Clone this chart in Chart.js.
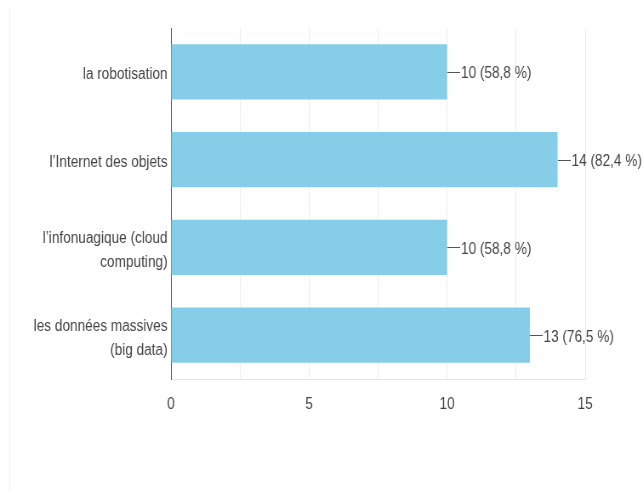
<!DOCTYPE html>
<html>
<head>
<meta charset="utf-8">
<script src="https://cdn.jsdelivr.net/npm/chart.js@4/dist/chart.umd.min.js"></script>
<style>
html,body{margin:0;padding:0;background:#fff;width:643px;height:491px;overflow:hidden;}
#wrap{position:relative;width:643px;height:491px;overflow:hidden;}
#frame{position:absolute;left:9px;top:6px;width:1px;height:485px;background:#f3f3f3;}
#squeeze{position:absolute;left:0;top:0;width:756px;height:491px;transform:scaleX(0.8505);transform-origin:0 0;}
canvas{display:block;}
</style>
</head>
<body>
<div id="wrap"><div id="frame"></div><div id="squeeze"><canvas id="c" width="756" height="491"></canvas></div></div>
<script>
const categories = [
  "la robotisation",
  "l’Internet des objets",
  ["l’infonuagique (cloud", "computing)"],
  ["les données massives", "(big data)"]
];
const counts = [10, 14, 10, 13];
const percentLabels = ["58,8 %", "82,4 %", "58,8 %", "76,5 %"];
const xTicks = [0, 5, 10, 15];

const FONT = "'Liberation Sans', Arial, sans-serif";

const valueLabels = {
  id: 'valueLabels',
  afterDatasetsDraw(chart) {
    const ctx = chart.ctx;
    const meta = chart.getDatasetMeta(0);
    ctx.save();
    ctx.font = "16px " + FONT;
    ctx.fillStyle = "#444";
    ctx.strokeStyle = "#555";
    ctx.lineWidth = 1;
    ctx.textAlign = "left";
    ctx.textBaseline = "middle";
    meta.data.forEach((bar, i) => {
      const x = Math.round(bar.x);
      const y = Math.round(bar.y) + 0.5;
      ctx.beginPath();
      ctx.moveTo(x, y);
      ctx.lineTo(x + 15, y);
      ctx.stroke();
      ctx.fillText(counts[i] + " (" + percentLabels[i] + ")", x + 16, bar.y + 2);
    });
    ctx.restore();
  }
};

new Chart(document.getElementById('c'), {
  type: 'bar',
  data: {
    labels: categories,
    datasets: [{
      data: counts,
      backgroundColor: '#86cde8',
      borderWidth: 0,
      barPercentage: 0.63,
      categoryPercentage: 1
    }]
  },
  options: {
    indexAxis: 'y',
    responsive: false,
    animation: false,
    layout: { padding: { top: 27, right: 68, left: 0, bottom: 0 } },
    plugins: { legend: { display: false }, tooltip: { enabled: false } },
    scales: {
      x: {
        min: 0, max: 15,
        afterFit(s) { s.height = 112; },
        afterBuildTicks(s) {
          s.ticks = [0, 2.5, 5, 7.5, 10, 12.5, 15].map(v => ({ value: v }));
        },
        grid: { color: '#ececec', drawTicks: false, lineWidth: 1 },
        border: { color: '#e6e6e6' },
        ticks: {
          padding: 16,
          color: '#444',
          font: { family: FONT, size: 16 },
          maxRotation: 0,
          autoSkip: false,
          callback: (v) => xTicks.includes(v) ? String(v) : ''
        }
      },
      y: {
        afterFit(s) { s.width = 201; },
        grid: { display: false, drawTicks: false },
        border: { color: '#555', width: 1 },
        ticks: {
          padding: 4,
          labelOffset: 3,
          color: '#444',
          font: { family: FONT, size: 16, lineHeight: 1.5 }
        }
      }
    }
  },
  plugins: [valueLabels]
});
</script>
</body>
</html>
